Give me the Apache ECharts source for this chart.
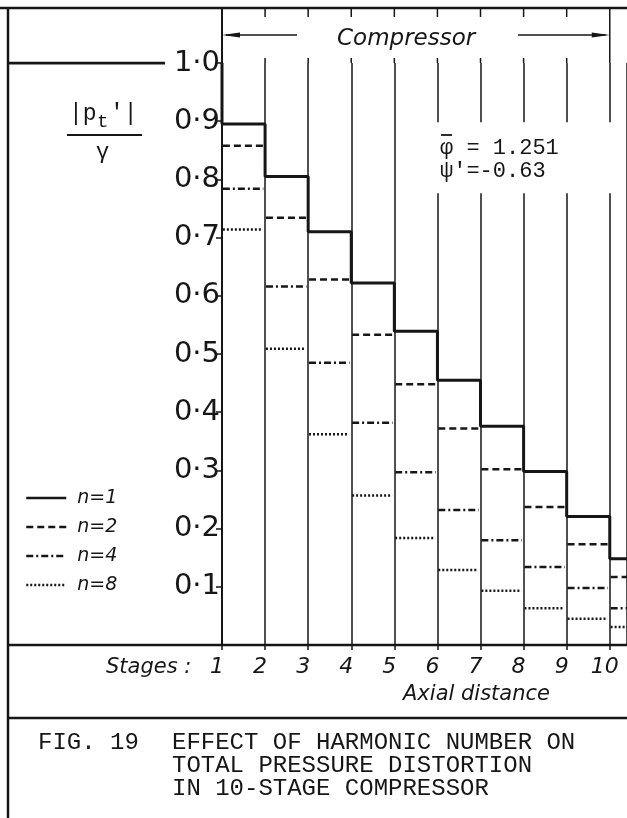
<!DOCTYPE html>
<html><head><meta charset="utf-8">
<script src="https://cdn.jsdelivr.net/npm/echarts@6/dist/echarts.min.js"></script>
<style>html,body{margin:0;padding:0;background:#fff}#c{width:627px;height:818px}</style>
</head><body><div id="c"></div>
<script>
// ---- data ----
const stageLabels = ['1','2','3','4','5','6','7','8','9','10'];
const upstreamLevel = 1.0;
const n1 = [0.895,0.805,0.710,0.622,0.539,0.455,0.376,0.298,0.221,0.148];
const n2 = [0.858,0.734,0.628,0.533,0.448,0.372,0.302,0.237,0.173,0.117];
const n4 = [0.784,0.616,0.485,0.382,0.297,0.232,0.180,0.134,0.098,0.063];
const n8 = [0.714,0.509,0.362,0.257,0.184,0.129,0.093,0.063,0.045,0.031];
const seriesNames = ['n=1','n=2','n=4','n=8'];
const yTickLabels = ['','0·1','0·2','0·3','0·4','0·5','0·6','0·7','0·8','0·9','1·0'];

const INK = '#161616';
const chart = echarts.init(document.getElementById('c'), null, {renderer:'canvas'});

function stepData(vals){
  const d = [[0, upstreamLevel]];
  vals.forEach((v,i)=>{ d.push([i, v]); d.push([i+1, v]); });
  return d;
}
function segData(vals, a, b){
  const d = [];
  vals.forEach((v,i)=>{ d.push([i+a, v]); d.push([i+b, v]); d.push([i+b+0.01, '-']); });
  return d;
}
const dashes = [null, [7,4], [7,3,2,3], [2,2]];

chart.setOption({
  animation:false,
  backgroundColor:'#fff',
  grid:[
    {left:222, right:0, top:63, bottom:173},
    {left:8, width:157, top:63, bottom:173}
  ],
  xAxis:[
    {type:'value', gridIndex:0, min:0, max:9.4, interval:1,
     axisLine:{show:true, lineStyle:{color:INK, width:2}},
     axisTick:{show:true, length:5, lineStyle:{color:INK, width:1.5}},
     splitLine:{show:true, lineStyle:{color:INK, width:1.5}},
     axisLabel:{show:true, margin:11, fontSize:22, fontFamily:'DejaVu Sans', fontStyle:'italic', color:INK,
       padding:[0,10,0,0], showMaxLabel:false,
       formatter:v=>stageLabels[Math.round(v)] || ''}},
    {type:'value', gridIndex:1, min:0, max:1, show:false}
  ],
  yAxis:[
    {type:'value', gridIndex:0, min:0, max:1, interval:0.1,
     axisLine:{show:true, lineStyle:{color:INK, width:2}},
     axisTick:{show:true, length:6, lineStyle:{color:INK, width:1.5}},
     splitLine:{show:false},
     axisLabel:{margin:2, fontSize:29, fontFamily:'DejaVu Sans', color:INK,
       formatter:v=>yTickLabels[Math.round(v*10)]}},
    {type:'value', gridIndex:1, min:0, max:1, show:false}
  ],
  legend:{
    orient:'vertical', left:20, top:483, itemWidth:40, itemHeight:14, itemGap:9,
    data:seriesNames,
    itemStyle:{opacity:0},
    lineStyle:{width:2.5},
    textStyle:{fontFamily:'DejaVu Sans', fontStyle:'italic', fontSize:19, color:INK, lineHeight:20, padding:[0,0,0,6]}
  },
  series:[
    {name:seriesNames[0], type:'line', xAxisIndex:0, yAxisIndex:0, data:stepData(n1), symbol:'none',
     lineStyle:{color:INK, width:3}, itemStyle:{color:INK}, z:5},
    {name:seriesNames[1], type:'line', data:segData(n2,0.02,0.96), symbol:'none', connectNulls:false,
     lineStyle:{color:INK, width:2.5, type:dashes[1]}, itemStyle:{color:INK}},
    {name:seriesNames[2], type:'line', data:segData(n4,0.02,0.96), symbol:'none', connectNulls:false,
     lineStyle:{color:INK, width:2.5, type:dashes[2]}, itemStyle:{color:INK}},
    {name:seriesNames[3], type:'line', data:segData(n8,0.02,0.95), symbol:'none', connectNulls:false,
     lineStyle:{color:INK, width:2.5, type:dashes[3]}, itemStyle:{color:INK}},
    {name:'upstream', type:'line', xAxisIndex:1, yAxisIndex:1, data:[[0,upstreamLevel],[1,upstreamLevel]], symbol:'none',
     lineStyle:{color:INK, width:3}}
  ]
});

// ---- decorations ----
const px = (x,y)=>chart.convertToPixel({gridIndex:0},[x,y]);
const x0 = px(0,0)[0], yTop = px(0,1)[1], yBase = px(0,0)[1];
const g = [];
const line = (x1,y1,x2,y2,w)=>g.push({type:'line', z:60, shape:{x1,y1,x2,y2}, style:{stroke:INK, lineWidth:w||2}});
// frame
line(0,8,627,8,2.5);
line(8,8,8,818,2.5);
line(8,yBase,627,yBase,2.5);
line(8,718,627,718,2.5);
// axis line continuation upward and top ticks
line(x0,8,x0,yTop,2);
for(let k=1;k<=8;k++){ const xx=px(k,0)[0]; line(xx,8,xx,17,1.5); line(xx,58,xx,yTop,1.5); }
const x9 = px(9,0)[0];
line(x9,8,x9,yTop,1.5);
// white gap behind the parameter text
const gx = px(4.8,0)[0], gy1 = px(0,0.898)[1], gy2 = px(0,0.776)[1];
g.push({type:'rect', z:50, shape:{x:gx, y:gy1, width:x9-gx+4, height:gy2-gy1}, style:{fill:'#fff'}});
// compressor arrows
line(x0+4,35,297,35,1.5);
g.push({type:'polygon', z:60, shape:{points:[[x0,35],[x0+18,32.5],[x0+18,37.5]]}, style:{fill:INK}});
line(518,35,x9-4,35,1.5);
g.push({type:'polygon', z:60, shape:{points:[[x9,35],[x9-18,32.5],[x9-18,37.5]]}, style:{fill:INK}});
const txt = (text,x,y,st)=>g.push({type:'text', z:60, x, y, style:Object.assign({text, fill:INK, textVerticalAlign:'middle'}, st)});
txt('Compressor',337,39,{fontFamily:'DejaVu Sans', fontStyle:'italic', fontSize:23});
// y label fraction
const mono = {fontFamily:'Liberation Mono', fontSize:23};
txt('|p',69,114,mono);
txt('t',97,122,{fontFamily:'Liberation Mono', fontSize:19});
txt("'|",110,114,mono);
line(67,135,142,135,1.8);
txt('\u03b3',96,152,{fontFamily:'Liberation Mono', fontSize:22});
// parameters
txt('\u03c6 = 1.251',440,148,{fontFamily:'Liberation Mono', fontSize:22});
line(441,135,452,135,1.8);
txt("\u03c8'=-0.63",440,171,{fontFamily:'Liberation Mono', fontSize:22});
// stages / axial distance
txt('Stages :',106,668,{fontFamily:'DejaVu Sans', fontStyle:'italic', fontSize:21});
txt('Axial distance',403,695,{fontFamily:'DejaVu Sans', fontStyle:'italic', fontSize:21});
// caption
const cap = {fontFamily:'Liberation Mono', fontSize:24};
txt('FIG. 19',38,743,cap);
txt('EFFECT OF HARMONIC NUMBER ON',172,743,cap);
txt('TOTAL PRESSURE DISTORTION',172,766,cap);
txt('IN 10-STAGE COMPRESSOR',172,789,cap);
chart.setOption({graphic:{elements:g}});
</script></body></html>
